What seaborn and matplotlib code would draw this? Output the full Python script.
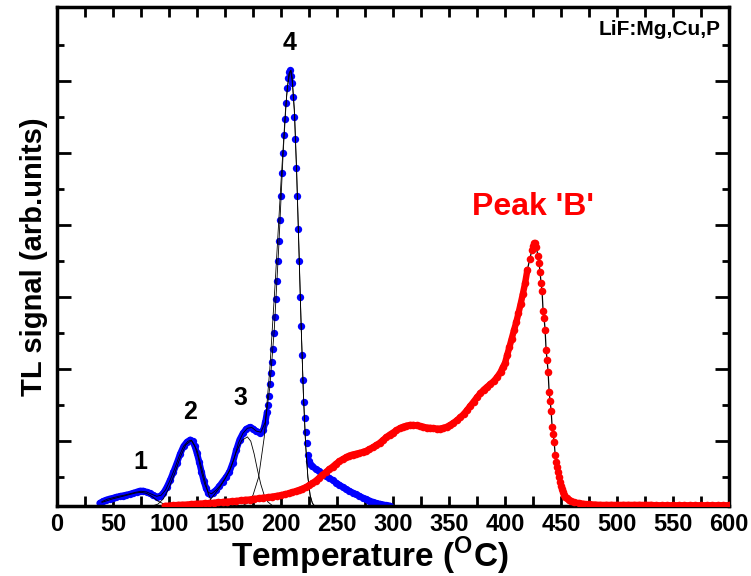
import matplotlib
matplotlib.use("Agg")
import matplotlib.pyplot as plt
import seaborn as sns
from matplotlib.ticker import MultipleLocator, FixedLocator

# blue glow curve (peaks 1-4)
blue_T = [38, 41, 44, 47, 50, 53, 56, 59, 62, 65, 68, 71, 74, 77, 80, 83, 86, 89, 92, 95,
          98, 101, 104, 107, 110, 113, 116, 119, 121, 123, 125, 127, 129, 131, 133, 135, 137,
          139, 142, 145, 148, 151, 154, 157, 160, 163, 166, 169, 172, 175, 178, 181, 184, 186,
          187.5, 188.4, 189.3, 190.2, 191.1, 192.0, 192.9, 193.8, 194.7, 195.6, 196.5, 197.4,
          198.3, 199.2, 200.1, 201.0, 201.9, 202.8, 203.7, 204.6, 205.5, 206.4, 207.3, 208.2,
          209.1, 210.0, 210.9, 211.8, 212.7, 213.6, 214.5, 215.4, 216.3, 217.2, 218.1, 219.0,
          219.9, 220.8, 221.7, 222.6, 223.5, 224.4, 225.3, 226.2, 228, 231, 234, 237, 240, 243,
          246, 249, 252, 255, 258, 261, 264, 267, 270, 273, 276, 279, 282, 285, 288, 291, 294, 297]
blue_y = [0.08, 0.13, 0.17, 0.2, 0.22, 0.25, 0.27, 0.29, 0.31, 0.33, 0.36, 0.39, 0.42, 0.42,
          0.39, 0.35, 0.3, 0.26, 0.27, 0.36, 0.52, 0.72, 0.95, 1.19, 1.45, 1.66, 1.78, 1.84,
          1.8, 1.66, 1.46, 1.22, 0.95, 0.7, 0.5, 0.37, 0.33, 0.37, 0.44, 0.55, 0.68, 0.8, 0.95,
          1.2, 1.55, 1.84, 2.02, 2.14, 2.19, 2.15, 2.07, 2.03, 2.1, 2.33,
          2.6, 2.8, 3.05, 3.4, 3.7, 4.0, 4.35, 4.8, 5.25, 5.75, 6.25, 6.8,
          7.36, 7.95, 8.6, 9.25, 9.8, 10.3, 10.75, 11.2, 11.6, 11.9, 12.05, 12.1,
          11.95, 11.75, 11.35, 10.8, 10.2, 9.4, 8.6, 7.7, 6.8, 5.8, 5.0, 4.2,
          3.5, 2.9, 2.45, 2.05, 1.75, 1.42, 1.25, 1.16, 1.1, 1.03, 0.97, 0.9, 0.84, 0.78,
          0.72, 0.65, 0.59, 0.53, 0.47, 0.42, 0.37, 0.32, 0.28, 0.23, 0.19, 0.15, 0.11, 0.08,
          0.06, 0.04, 0.02, 0.01]

# red glow curve (peak 'B')
red_T = [96, 100, 104, 108, 112, 116, 120, 124, 128, 132, 136, 140, 144, 148, 152, 156, 160,
         164, 168, 172, 176, 180, 184, 188, 192, 196, 200, 204, 207, 210, 213, 216, 219, 222,
         225, 228, 231, 234, 237, 240, 243, 246, 249, 252, 255, 258, 261, 264, 267, 270, 273,
         276, 279, 282, 285, 288, 291, 294, 297, 300, 303, 306, 309, 312, 315, 318, 321, 324,
         327, 330, 333, 336, 339, 342, 345, 348, 351, 354, 357, 360, 363, 366, 369, 372, 375,
         378, 381, 384, 387, 390, 393, 396, 398, 400, 402, 404, 406, 408, 410, 412, 414, 416,
         418, 420, 422, 424, 425, 426, 427, 427.7, 429.5, 430.4, 431.3, 432.2, 433.1, 434.0,
         434.9, 435.8, 436.7, 437.6, 438.5, 439.4, 440.3, 441.2, 442.1, 443.0, 443.9, 444.8,
         445.7, 446.6, 447.5, 448.4, 449.3, 450.2, 451.1, 452, 453, 454, 455.5, 457, 459, 462,
         466, 470, 475, 480, 485, 490, 495, 500, 505, 510, 515, 520, 525, 530, 535, 540, 545,
         550, 555, 560, 565, 570, 575, 580, 585, 590, 595, 600]
red_y = [0.0, 0.01, 0.02, 0.03, 0.035, 0.04, 0.05, 0.06, 0.065, 0.075, 0.08, 0.09, 0.1, 0.11,
         0.12, 0.13, 0.14, 0.155, 0.17, 0.18, 0.2, 0.21, 0.23, 0.24, 0.26, 0.28, 0.3, 0.33,
         0.35, 0.38, 0.41, 0.44, 0.48, 0.52, 0.57, 0.63, 0.7, 0.78, 0.86, 0.94, 1.02, 1.09,
         1.17, 1.24, 1.3, 1.35, 1.4, 1.43, 1.45, 1.47, 1.5, 1.53, 1.58, 1.63, 1.69, 1.75, 1.83,
         1.91, 1.98, 2.04, 2.1, 2.16, 2.2, 2.23, 2.25, 2.25, 2.24, 2.22, 2.2, 2.18, 2.17, 2.16,
         2.15, 2.15, 2.17, 2.2, 2.25, 2.31, 2.38, 2.46, 2.55, 2.66, 2.78, 2.9, 3.02, 3.13, 3.23,
         3.31, 3.39, 3.47, 3.58, 3.72, 3.85, 3.97, 4.2, 4.42, 4.65, 4.88, 5.1, 5.35, 5.62, 5.9,
         6.2, 6.56, 6.85, 7.1, 7.22, 7.3, 7.3, 7.2, 6.95, 6.75, 6.5, 6.19, 5.97, 5.42,
         5.22, 4.9, 4.33, 4.06, 3.72, 3.17, 2.92, 2.64, 2.19, 2.0, 1.78, 1.42,
         1.22, 1.08, 0.95, 0.8, 0.68, 0.56, 0.46, 0.38, 0.31, 0.26, 0.21, 0.17, 0.13, 0.1,
         0.08, 0.06, 0.05, 0.04, 0.03, 0.03, 0.03, 0.03, 0.03, 0.03, 0.03, 0.03, 0.03, 0.03,
         0.02, 0.02, 0.02, 0.02, 0.02, 0.02, 0.02, 0.02, 0.02, 0.02, 0.02, 0.02, 0.02, 0.02]

# fitted curve (sum) and its four components
fit_T = [40, 45, 50, 55, 60, 65, 70, 75, 80, 85, 89, 93, 97, 101, 105, 109, 113, 117, 120, 123,
         126, 129, 132, 135, 138, 142, 146, 150, 154, 158, 162, 166, 170, 174, 178, 182, 186,
         190, 194, 198, 202, 205, 207, 208.5, 210, 212, 214, 216, 218, 220, 222, 224, 226, 228, 230]
fit_y = [0.12, 0.19, 0.23, 0.27, 0.3, 0.34, 0.38, 0.41, 0.39, 0.32, 0.27, 0.3, 0.45, 0.72, 1.03,
         1.38, 1.66, 1.8, 1.83, 1.68, 1.36, 0.95, 0.6, 0.38, 0.34, 0.44, 0.58, 0.76, 0.97, 1.3,
         1.75, 2.02, 2.16, 2.18, 2.08, 2.05, 2.33, 3.3, 4.9, 7.2, 9.85, 11.4, 12.0, 12.1, 11.8,
         10.9, 9.2, 7.1, 5.0, 3.1, 1.7, 0.8, 0.3, 0.08, 0.0]
c1_T = [40, 45, 50, 55, 60, 65, 70, 75, 80, 85, 90, 95, 100, 105]
c1_y = [0.1, 0.15, 0.2, 0.24, 0.28, 0.32, 0.36, 0.38, 0.35, 0.26, 0.14, 0.06, 0.015, 0.0]
c2_T = [85, 90, 95, 100, 105, 110, 115, 120, 125, 130, 135, 138, 141, 144]
c2_y = [0.0, 0.05, 0.2, 0.5, 0.9, 1.35, 1.7, 1.82, 1.55, 0.95, 0.35, 0.12, 0.02, 0.0]
c3_T = [130, 135, 140, 145, 150, 155, 160, 165, 170, 173, 176, 179, 182, 185, 188, 192]
c3_y = [0.0, 0.1, 0.3, 0.5, 0.75, 1.05, 1.5, 1.82, 1.92, 1.8, 1.45, 1.0, 0.6, 0.3, 0.12, 0.02]
c4_T = [165, 170, 175, 180, 185, 190, 195, 200, 204, 206, 208, 209, 210, 212, 214, 216, 218,
        220, 222, 224, 226, 228, 230]
c4_y = [0.0, 0.08, 0.3, 0.8, 1.9, 3.8, 6.3, 9.0, 11.0, 11.7, 12.05, 12.1, 11.9, 11.0, 9.3, 7.2,
        5.0, 3.1, 1.7, 0.8, 0.3, 0.08, 0.0]

sns.set_style("ticks")
plt.rcParams['font.family'] = ['Liberation Sans', 'DejaVu Sans']
plt.rcParams['font.weight'] = 'bold'
plt.rcParams['text.color'] = 'black'
plt.rcParams['axes.labelcolor'] = 'black'
plt.rcParams['axes.edgecolor'] = 'black'
plt.rcParams['xtick.color'] = 'black'
plt.rcParams['ytick.color'] = 'black'
plt.rcParams['mathtext.fontset'] = 'custom'
plt.rcParams['mathtext.rm'] = 'Liberation Sans:bold'
plt.rcParams['mathtext.bf'] = 'Liberation Sans:bold'

fig = plt.figure(figsize=(7.51, 5.76), dpi=100)
ax = fig.add_axes([57 / 751, 1 - 506 / 576, 672 / 751, 499 / 576])

# densely sampled stretches look like a solid band of dots
blue_dense = [(0, 55), (96, len(blue_T))]
red_dense = [(0, 104), (134, len(red_T))]
for a, b in blue_dense:
    sns.lineplot(x=blue_T[a:b], y=blue_y[a:b], color='#0000ff', lw=4.6, estimator=None,
                 ax=ax, zorder=2, solid_capstyle='round')
sns.scatterplot(x=blue_T, y=blue_y, color='#0000ff', s=28, linewidth=0, ax=ax, zorder=2)
sns.lineplot(x=red_T, y=red_y, color='black', lw=0.9, estimator=None, ax=ax, zorder=2.5)
for a, b in red_dense:
    sns.lineplot(x=red_T[a:b], y=red_y[a:b], color='#ff0000', lw=4.6, estimator=None,
                 ax=ax, zorder=4, solid_capstyle='round')
sns.scatterplot(x=red_T, y=red_y, color='#ff0000', s=30, linewidth=0, ax=ax, zorder=4)
for xs, ys in [(fit_T, fit_y), (c1_T, c1_y), (c2_T, c2_y), (c3_T, c3_y), (c4_T, c4_y)]:
    sns.lineplot(x=xs, y=ys, color='black', lw=0.6, estimator=None, ax=ax, zorder=3)

ax.set_xlim(0, 600)
ax.set_ylim(0, 13.86)
ax.xaxis.set_major_locator(MultipleLocator(50))
ax.xaxis.set_minor_locator(MultipleLocator(25))
ax.yaxis.set_major_locator(FixedLocator([1.8, 3.8, 5.8, 7.8, 9.8, 11.8]))
ax.yaxis.set_minor_locator(FixedLocator([0.8, 2.8, 4.8, 6.8, 8.8, 10.8, 12.8]))
ax.tick_params(axis='x', which='both', direction='in', top=True, length=7, width=2,
               labelsize=17, pad=5)
ax.tick_params(axis='y', which='major', direction='in', right=True, length=10, width=2,
               labelleft=False)
ax.tick_params(axis='y', which='minor', direction='in', right=True, length=5, width=2)
for lab in ax.get_xticklabels():
    lab.set_fontweight('bold')
for sp in ax.spines.values():
    sp.set_linewidth(2.5)

ax.set_xlabel(r'Temperature ($^{\mathbf{O}}$C)', fontsize=24, fontweight='bold')
ax.xaxis.set_label_coords((370 - 57) / 672, -0.058)
ax.set_ylabel('TL signal (arb.units)', fontsize=21, fontweight='bold')
ax.yaxis.set_label_coords(-0.014, 0.5)

ax.text(74, 1.22, '1', fontsize=18, fontweight='bold', ha='center', va='center')
ax.text(119, 2.6, '2', fontsize=18, fontweight='bold', ha='center', va='center')
ax.text(164, 3.0, '3', fontsize=18, fontweight='bold', ha='center', va='center')
ax.text(208, 12.85, '4', fontsize=18, fontweight='bold', ha='center', va='center')
ax.text(425, 8.3, "Peak 'B'", fontsize=23, fontweight='bold', color='#ff0000',
        ha='center', va='center')
ax.text(0.987, 0.954, 'LiF:Mg,Cu,P', transform=ax.transAxes, fontsize=15, fontweight='bold',
        ha='right', va='center')

fig.savefig('out.png', dpi=100)
